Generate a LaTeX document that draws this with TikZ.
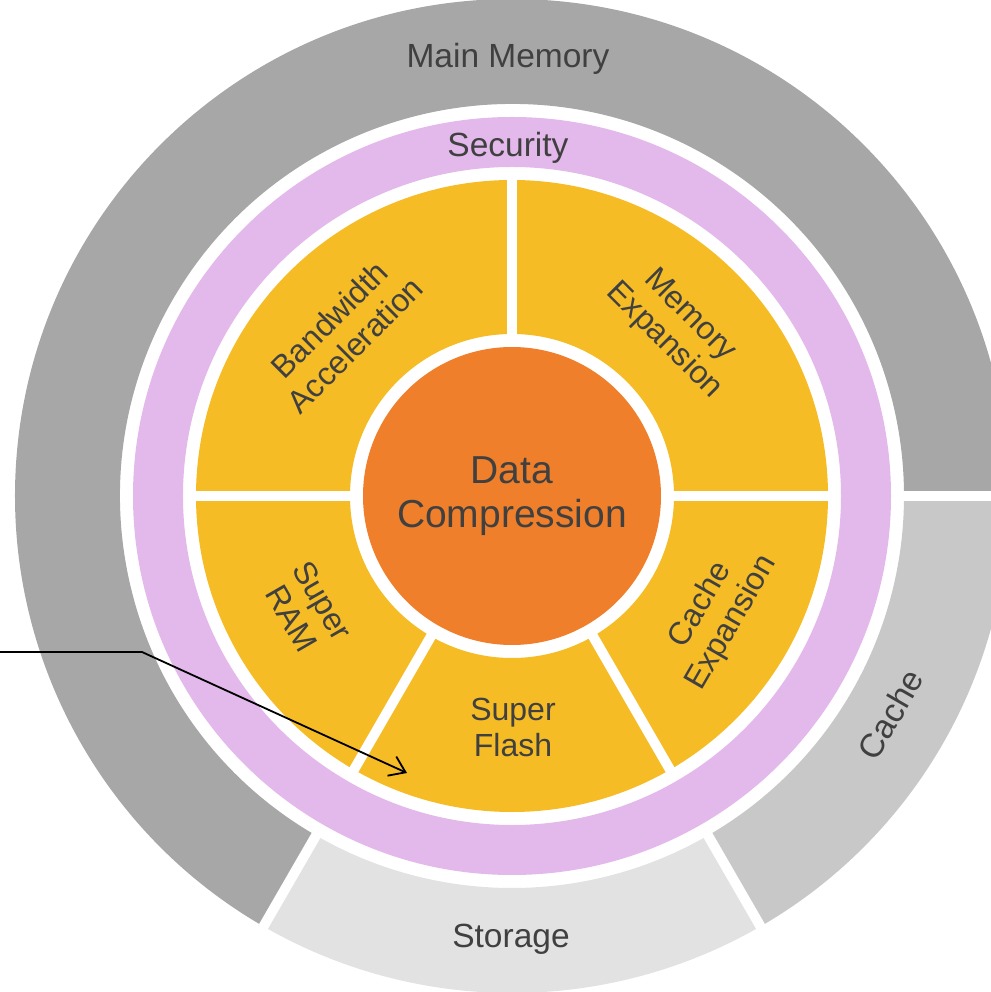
\documentclass[tikz,border=0pt]{standalone}
\usepackage{fontspec}
\setmainfont{Liberation Sans}
\usetikzlibrary{arrows.meta}
\definecolor{mainmemgray}{HTML}{A7A7A7}
\definecolor{cachegray}{HTML}{C8C8C8}
\definecolor{storagegray}{HTML}{E2E2E2}
\definecolor{securitypink}{HTML}{E3B8EA}
\definecolor{segyellow}{HTML}{F6BC26}
\definecolor{dcorange}{HTML}{EF7F2A}
\definecolor{labelgray}{HTML}{404040}

\begin{document}
\begin{tikzpicture}[x=1pt,y=1pt,
   ringtext/.style={text=labelgray,font=\fontsize{33.5}{38}\selectfont},
   segtext/.style={text=labelgray,font=\fontsize{32}{36}\selectfont,align=center},
   gap/.style={white,line width=10pt}]
\useasboundingbox (-512,-496) rectangle (478,496);
% outer ring
\fill[mainmemgray] (0:497) arc[start angle=0,end angle=240,radius=497]
   -- (240:392) arc[start angle=240,end angle=0,radius=392] -- cycle;
\fill[storagegray] (240:497) arc[start angle=240,end angle=300,radius=497]
   -- (300:392) arc[start angle=300,end angle=240,radius=392] -- cycle;
\fill[cachegray] (300:497) arc[start angle=300,end angle=360,radius=497]
   -- (360:392) arc[start angle=360,end angle=300,radius=392] -- cycle;
\foreach \a in {0,240,300} \draw[gap] (\a:385) -- (\a:505);
% security ring
\fill[securitypink,even odd rule] (0,0) circle[radius=379] (0,0) circle[radius=329];
% yellow ring
\fill[segyellow,even odd rule] (0,0) circle[radius=316] (0,0) circle[radius=162];
\foreach \a in {0,90,180,240,300} \draw[gap] (\a:155) -- (\a:322);
\node[circle,fill=dcorange,minimum size=298pt,inner sep=0pt,text=labelgray,
   font=\fontsize{39}{44}\selectfont,align=center] (datacomp) at (0,0) {Data\\Compression};

\node[ringtext] (mainmem) at (-4,437) {Main Memory};
\node[ringtext] (security) at (-4,348) {Security};
\node[ringtext] (storage) at (-1,-443) {Storage};
\node[ringtext,rotate=60] (cache) at (-30:437) {Cache};

\node[segtext,rotate=45] (bwaccel) at (136:236) {Bandwidth\\Acceleration};
\node[segtext,rotate=-45] (memexp) at (45.5:235) {Memory\\Expansion};
\node[segtext,rotate=60] (cacheexp) at (-30:236) {Cache\\Expansion};
\node[segtext] (superflash) at (1,-231) {Super\\Flash};
\node[segtext,rotate=-60] (superram) at (209:234) {Super\\RAM};

\coordinate (arrowstart) at (-512,-156);
\coordinate (arrowbend) at (-370,-156);
\coordinate (arrowtip) at (-105,-277);
\draw[line width=1.8pt,-{Straight Barb[length=15pt,width=21pt]}]
   (arrowstart) -- (arrowbend) -- (arrowtip);
\end{tikzpicture}
\end{document}
